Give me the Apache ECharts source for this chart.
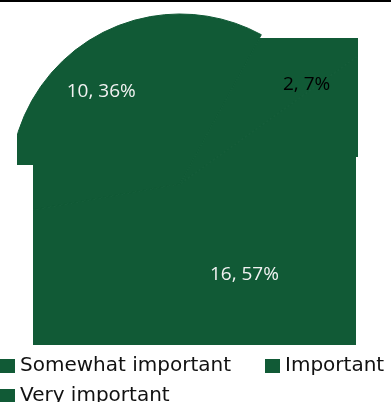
<!DOCTYPE html>
<html><head><meta charset="utf-8">
<script src="https://cdn.jsdelivr.net/npm/echarts/dist/echarts.min.js"></script>
<style>html,body{margin:0;padding:0;background:#fff}#c{width:391px;height:402px}</style>
</head><body><div id="c"></div>
<script>
// ---- data ----
const categories = ['Somewhat important', 'Important', 'Very important'];
const values = [10, 2, 16];

// ---- derived ----
const total = values.reduce((a, b) => a + b, 0);
const starts = values.map((v, i) => values.slice(0, i).reduce((a, b) => a + b, 0));

// ---- layout / style (not data) ----
const GREEN = '#115a36';
const layout = {
  center: [180, 184],
  radius: 170,
  startAngle: 190,
  sliceRadius: [1, 4, 4],
  clips: [
    [[17, 0], [391, 0], [391, 402], [33, 402], [33, 165], [17, 165]],
    [[0, 38], [358, 38], [358, 345], [0, 345]],
    [[33, 38], [358, 38], [358, 157], [356, 157], [356, 345], [33, 345]]
  ],
  labelAt: [[0.463, 0.714], [0.909, 0.946], [0.439, 0.654]],
  labelColor: ['#f2f2f2', '#000000', '#f2f2f2']
};

function renderSlice(params, api) {
  const i = params.seriesIndex;
  const cs = params.coordSys;
  const a0 = starts[i], a1 = starts[i] + values[i];
  const p0 = api.coord([1, a0]);
  const p1 = api.coord([1, a1]);
  let th0 = Math.atan2(p0[1] - cs.cy, p0[0] - cs.cx);
  let th1 = Math.atan2(p1[1] - cs.cy, p1[0] - cs.cx);
  if (th1 <= th0) th1 += Math.PI * 2;
  const la = layout.labelAt[i];
  const lp = api.coord([la[1], a0 + values[i] * la[0]]);
  return {
    type: 'group',
    children: [
      {
        type: 'sector',
        shape: { cx: cs.cx, cy: cs.cy, r0: 0, r: cs.r * layout.sliceRadius[i],
                 startAngle: th0, endAngle: th1, clockwise: true },
        style: { fill: GREEN, stroke: GREEN, lineWidth: 1 },
        clipPath: { type: 'polygon', shape: { points: layout.clips[i] } }
      },
      {
        type: 'text', x: lp[0], y: lp[1], z2: 100,
        style: {
          text: values[i] + ', ' + Math.round(values[i] / total * 100) + '%',
          fill: layout.labelColor[i], fontSize: 19, fontFamily: 'Open Sans',
          align: 'center', verticalAlign: 'middle'
        }
      }
    ]
  };
}

const chart = echarts.init(document.getElementById('c'), null, { renderer: 'canvas' });
const legendText = { fontSize: 20, fontFamily: 'DejaVu Sans', color: '#111' };
chart.setOption({
  animation: false,
  polar: { center: layout.center, radius: layout.radius },
  angleAxis: { type: 'value', min: 0, max: total, startAngle: layout.startAngle, clockwise: true,
    show: false, axisLine: { show: false }, axisTick: { show: false }, axisLabel: { show: false }, splitLine: { show: false } },
  radiusAxis: { type: 'value', min: 0, max: 1, show: false,
    axisLine: { show: false }, axisTick: { show: false }, axisLabel: { show: false }, splitLine: { show: false } },
  graphic: [{ type: 'rect', left: 0, top: 0, shape: { width: 391, height: 2 }, style: { fill: '#000' } }],
  legend: [
    { data: [categories[0], categories[1]], left: 0, top: 356, padding: 0, icon: 'rect',
      itemWidth: 15, itemHeight: 14, itemGap: 34, textStyle: legendText },
    { data: [categories[2]], left: 0, top: 386, padding: 0, icon: 'rect',
      itemWidth: 15, itemHeight: 14, textStyle: legendText }
  ],
  series: categories.map((name, i) => ({
    type: 'custom', name: name, coordinateSystem: 'polar',
    itemStyle: { color: GREEN },
    data: [[1, values[i]]],
    renderItem: renderSlice
  }))
});
</script></body></html>
